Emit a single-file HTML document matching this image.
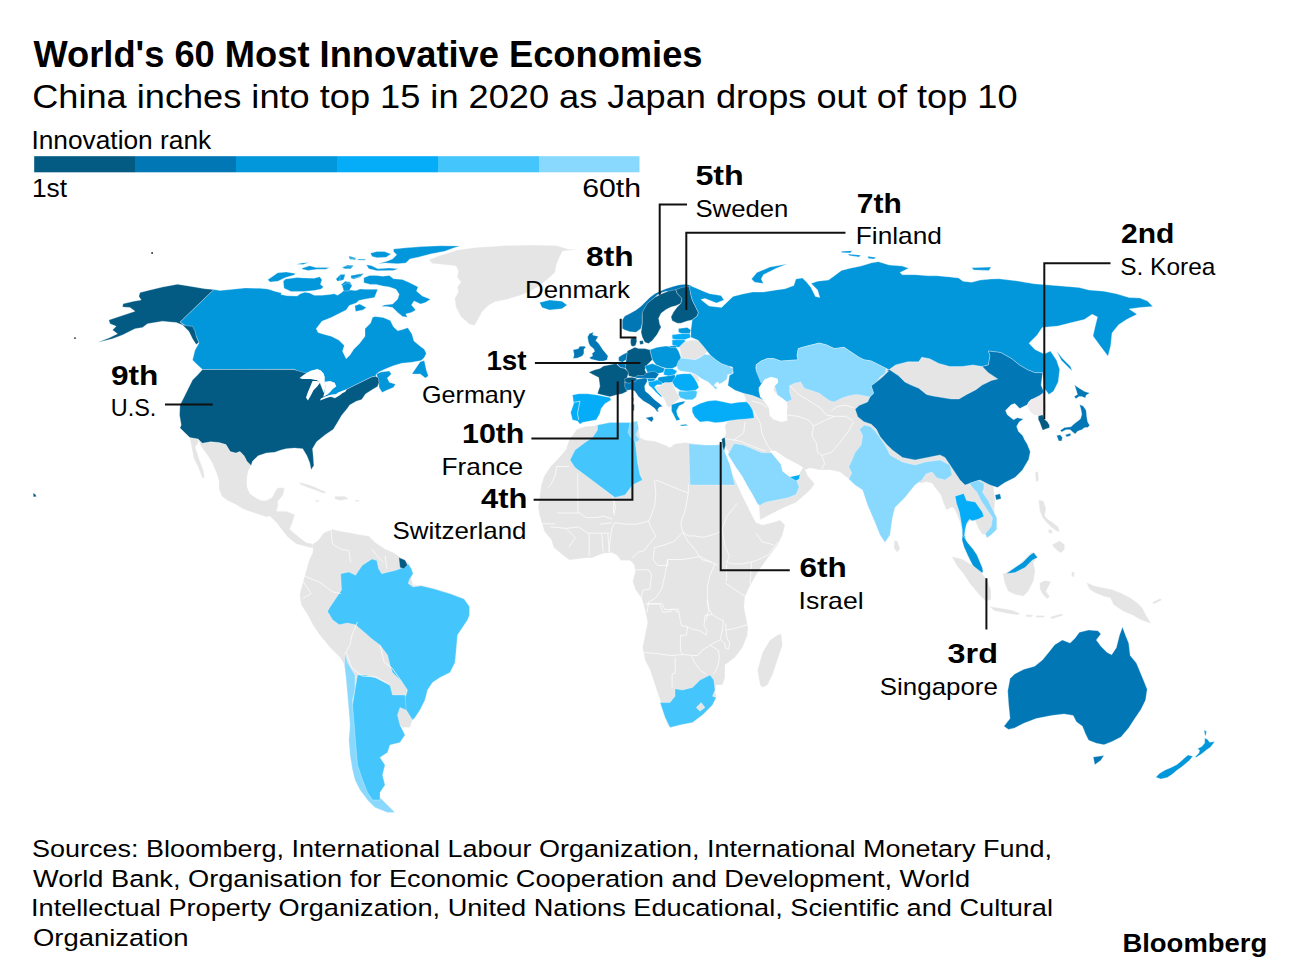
<!DOCTYPE html>
<html><head><meta charset="utf-8"><style>
html,body{margin:0;padding:0;background:#fff;}
svg{display:block;}
text{font-family:"Liberation Sans",sans-serif;fill:#000;}
.b{font-weight:bold;}
</style></head><body>
<svg width="1291" height="973" viewBox="0 0 1291 973">
<rect width="1291" height="973" fill="#fff"/>
<g id="map">
<path d="M428.7,259.8 438.6,256.1 457.2,249.9 475.8,247.4 506.7,245.6 531.5,245.0 556.3,245.6 568.7,249.3 578.6,249.3 562.5,251.2 560.0,256.1 556.3,264.8 555.1,272.2 550.1,277.2 543.9,282.1 537.7,287.1 529.0,292.0 519.1,295.8 506.7,299.5 494.3,302.0 488.2,305.7 482.0,311.9 478.2,319.3 474.5,325.5 469.6,324.3 460.9,316.8 455.9,306.9 454.7,298.2 458.4,292.0 457.2,287.1 460.9,282.1 457.2,277.2 458.4,271.0 455.9,266.0 444.8,264.8 432.4,263.5Z" fill="#e5e5e5" stroke="#fff" stroke-width="0.5" stroke-opacity="0.6" stroke-linejoin="round"/>
<path d="M198.1,439.0 202.3,443.2 210.7,441.8 219.0,442.5 226.0,444.6 230.2,451.6 235.8,453.0 240.0,451.6 244.1,455.8 246.9,461.3 251.1,465.5 248.3,471.1 246.9,478.1 246.9,486.4 249.7,493.4 255.3,497.6 260.9,500.4 266.4,500.4 272.0,497.6 274.8,492.0 277.6,487.8 284.6,487.8 283.2,494.8 277.6,501.8 278.2,504.7 276.6,511.2 286.4,511.2 294.7,514.5 293.0,521.1 289.7,529.3 299.6,537.6 306.2,542.5 312.8,544.1 317.7,540.9 320.0,538.0 315.0,546.0 312.8,548.0 309.5,547.4 302.9,545.8 296.3,544.1 288.1,537.6 281.5,529.3 276.6,522.8 270.0,516.2 266.4,517.1 258.1,514.3 249.7,511.5 242.7,508.8 235.8,504.6 227.4,500.4 221.8,496.2 219.0,489.2 219.0,480.9 216.3,472.5 212.1,462.7 207.9,455.8 203.7,450.2 200.5,445.0Z" fill="#e5e5e5" stroke="#fff" stroke-width="0.5" stroke-opacity="0.6" stroke-linejoin="round"/>
<path d="M189.8,437.6 198.1,439.0 198.5,442.5 195.3,447.0 199.5,460.0 203.7,471.1 204.4,478.1 202.3,478.1 198.1,466.9 193.9,458.6 191.9,448.8Z" fill="#e5e5e5" stroke="#fff" stroke-width="0.5" stroke-opacity="0.6" stroke-linejoin="round"/>
<path d="M298.5,482.3 305.5,483.7 313.9,486.4 319.4,489.2 326.4,492.0 323.6,493.4 316.6,490.6 308.3,487.8 301.3,485.0Z" fill="#e5e5e5" stroke="#fff" stroke-width="0.5" stroke-opacity="0.6" stroke-linejoin="round"/>
<path d="M334.8,496.2 344.5,496.2 348.7,499.0 340.3,500.4 334.8,499.0Z" fill="#e5e5e5" stroke="#fff" stroke-width="0.5" stroke-opacity="0.6" stroke-linejoin="round"/>
<path d="M315.2,500.2 319.4,500.6 319.0,502.0 315.5,501.8Z" fill="#e5e5e5" stroke="#fff" stroke-width="0.5" stroke-opacity="0.6" stroke-linejoin="round"/>
<path d="M355.0,500.0 359.5,500.2 359.0,501.6 355.2,501.4Z" fill="#e5e5e5" stroke="#fff" stroke-width="0.5" stroke-opacity="0.6" stroke-linejoin="round"/>
<path d="M312.8,544.1 317.7,540.9 322.6,534.3 324.3,532.6 332.5,529.3 339.1,531.0 348.9,532.6 357.2,534.3 368.7,535.9 375.3,542.5 385.1,549.1 393.4,552.4 400.0,557.3 408.2,562.2 413.1,572.1 411.4,578.7 413.1,585.3 421.3,585.3 434.5,588.6 450.9,593.5 464.1,598.4 469.0,606.6 469.0,614.9 467.5,620.0 462.5,627.5 457.5,635.0 456.2,650.0 455.0,662.5 450.0,672.5 440.0,677.5 432.5,682.5 427.5,690.0 425.0,700.0 420.0,710.0 415.0,717.5 412.5,720.0 410.0,727.5 402.5,727.5 400.0,725.0 405.0,735.0 400.0,742.5 390.0,745.0 387.5,752.5 380.0,757.5 385.0,765.0 382.5,775.0 385.0,785.0 380.0,792.5 380.0,800.0 387.5,805.0 395.0,812.5 387.5,812.5 375.0,807.5 367.5,800.0 360.0,790.0 355.0,780.0 352.5,770.0 350.0,755.0 348.8,740.0 350.0,725.0 348.8,710.0 347.5,695.0 346.2,680.0 344.5,665.0 340.0,657.5 330.0,647.5 319.4,634.6 312.8,624.7 307.8,614.9 301.3,605.0 299.6,595.1 302.9,582.0 306.2,570.5 309.5,559.0 312.8,552.4Z" fill="#e5e5e5" stroke="#fff" stroke-width="0.5" stroke-opacity="0.6" stroke-linejoin="round"/>
<path d="M576.8,429.3 586.1,426.2 592.0,426.0 597.5,425.0 610.0,422.5 622.5,422.5 632.5,423.0 638.0,424.0 639.0,430.0 640.0,437.5 645.0,440.0 655.0,441.2 665.0,445.0 670.0,447.5 675.0,443.8 685.0,442.5 695.0,443.8 705.0,445.0 715.0,445.0 722.5,443.8 724.0,450.0 728.5,465.0 733.0,475.0 737.5,485.0 742.0,495.0 747.0,505.0 752.0,515.0 756.0,522.5 762.5,525.0 772.5,522.5 780.0,520.0 785.0,525.0 782.5,535.0 777.5,545.0 770.0,555.0 762.0,566.0 755.0,577.0 749.0,588.0 745.0,597.0 744.0,607.0 746.0,617.0 748.0,627.0 747.5,635.0 742.5,647.5 735.0,657.5 725.0,665.0 725.0,677.5 722.5,685.0 716.2,685.0 715.0,690.0 716.2,697.5 712.5,705.0 702.5,715.0 692.5,722.5 680.0,725.0 670.0,727.5 667.5,725.0 665.0,715.0 660.0,700.0 655.0,685.0 650.0,670.0 645.0,660.0 642.5,647.5 645.0,635.0 647.5,622.5 645.0,610.0 641.9,598.8 635.3,589.5 632.7,581.6 635.3,571.1 634.0,564.5 630.1,560.6 620.9,560.6 616.9,555.3 611.6,552.7 603.7,553.3 598.5,555.3 591.9,557.9 585.3,557.9 576.1,559.3 569.5,559.9 562.9,555.3 553.7,547.4 551.1,539.5 544.5,531.6 539.6,516.0 538.1,506.8 539.6,497.5 541.2,485.1 544.3,475.8 550.5,466.5 556.7,460.3 566.0,449.4 569.1,440.1Z" fill="#e5e5e5" stroke="#fff" stroke-width="0.5" stroke-opacity="0.6" stroke-linejoin="round"/>
<path d="M760.0,685.0 757.5,670.0 762.5,652.5 770.0,640.0 777.5,635.0 781.2,633.8 782.5,645.0 777.5,660.0 772.5,675.0 767.5,685.0 762.5,687.5Z" fill="#e5e5e5" stroke="#fff" stroke-width="0.5" stroke-opacity="0.6" stroke-linejoin="round"/>
<path d="M724.8,426.5 727.0,422.0 735.0,418.0 746.5,401.8 743.4,393.3 752.7,395.6 758.9,398.0 764.3,400.3 768.0,403.0 770.0,385.0 800.0,378.0 850.0,372.0 889.0,369.6 895.5,364.9 907.9,361.8 918.7,361.8 921.8,357.2 929.6,358.7 938.9,363.4 949.7,366.5 962.1,366.5 973.0,364.9 982.2,366.5 990.0,372.0 998.0,379.0 1005.0,400.0 1000.0,440.0 992.0,470.0 995.0,500.0 993.0,530.0 985.3,534.5 982.4,534.5 978.1,528.0 975.3,521.0 970.0,521.0 966.0,526.0 964.0,534.0 962.0,532.0 960.0,522.0 955.0,510.0 952.2,507.0 946.5,510.0 943.6,503.5 940.7,494.8 935.0,487.6 932.1,483.3 926.3,481.9 920.6,483.3 900.0,472.0 870.0,466.0 855.0,470.0 848.7,479.0 840.0,472.0 830.0,470.0 820.0,470.0 810.0,468.0 805.0,470.0 808.0,476.0 814.6,483.8 811.5,488.4 805.3,494.6 796.0,502.4 785.2,507.0 769.7,514.8 760.0,520.0 759.0,506.0 753.5,494.6 747.0,482.2 738.5,466.8 730.0,454.4 726.0,448.0 724.0,440.0 726.0,432.0Z" fill="#e5e5e5" stroke="#fff" stroke-width="0.5" stroke-opacity="0.6" stroke-linejoin="round"/>
<path d="M213.8,289.5 220.0,290.5 230.0,289.5 245.0,288.0 260.0,288.3 267.7,289.1 275.5,291.4 281.7,293.0 280.9,294.5 287.1,295.7 297.2,296.1 300.3,293.7 304.9,292.2 309.6,293.0 314.2,295.3 322.0,295.3 329.7,294.5 334.4,293.7 337.5,295.3 342.1,292.2 345.2,289.1 349.9,289.9 356.1,290.6 360.0,289.0 364.7,289.3 377.8,289.3 374.5,297.6 364.7,299.2 358.9,300.5 356.2,303.0 349.2,305.5 346.2,310.0 338.7,313.7 331.2,317.5 321.9,321.2 316.2,328.7 318.1,332.5 323.7,334.3 331.2,336.2 338.7,340.0 344.3,345.6 342.5,351.2 346.2,358.7 350.0,355.0 353.7,349.3 359.3,343.7 365.0,336.2 365.0,328.7 370.6,323.1 372.5,317.5 374.9,316.4 383.2,317.5 390.4,320.6 393.4,326.7 397.6,330.8 401.7,329.8 407.8,327.7 411.9,333.9 414.0,341.1 420.2,346.2 424.3,349.3 426.3,353.4 424.3,357.6 421.2,360.6 412.0,362.2 401.7,363.2 393.4,365.8 388.3,367.8 383.2,369.9 379.1,371.9 376.5,374.0 375.7,376.2 371.1,377.2 363.6,380.9 354.3,385.5 346.9,389.3 337.6,393.0 333.9,395.8 326.5,398.1 320.0,400.4 323.2,396.7 325.5,386.5 324.6,381.8 324.6,377.2 320.9,370.7 317.2,369.3 305.1,373.5 298.6,371.6 293.9,369.3 202.5,369.5 197.5,365.0 192.5,360.0 195.0,350.0 199.0,343.0 196.0,336.0 192.0,330.0 186.0,326.0 180.0,322.0Z" fill="#0296db" stroke="#fff" stroke-width="0.5" stroke-opacity="0.6" stroke-linejoin="round"/>
<path d="M376.5,374.0 381.1,371.9 389.3,370.9 391.4,374.0 387.3,378.1 389.3,382.2 395.5,384.3 393.4,387.4 386.2,390.4 382.1,392.5 379.1,387.4 378.5,381.0 377.6,378.0Z" fill="#0296db" stroke="#fff" stroke-width="0.5" stroke-opacity="0.6" stroke-linejoin="round"/>
<path d="M416.1,367.8 420.2,361.7 424.3,360.6 426.3,369.9 428.4,376.1 425.3,378.1 420.2,374.0 411.9,374.0Z" fill="#0296db" stroke="#fff" stroke-width="0.5" stroke-opacity="0.6" stroke-linejoin="round"/>
<path d="M267.7,279.8 277.8,272.8 286.3,272.0 295.6,273.6 294.1,275.1 285.6,277.5 277.8,281.3 270.1,282.1Z" fill="#0296db" stroke="#fff" stroke-width="0.5" stroke-opacity="0.6" stroke-linejoin="round"/>
<path d="M283.2,281.3 285.6,279.0 297.2,277.5 303.4,277.9 314.2,278.2 319.6,276.7 322.0,279.8 320.4,284.4 323.5,286.8 321.2,289.1 314.2,290.6 303.4,291.4 291.0,291.4 284.0,288.3Z" fill="#0296db" stroke="#fff" stroke-width="0.5" stroke-opacity="0.6" stroke-linejoin="round"/>
<path d="M296.4,264.3 302.0,263.0 308.8,262.4 303.0,264.5Z" fill="#0296db" stroke="#fff" stroke-width="0.5" stroke-opacity="0.6" stroke-linejoin="round"/>
<path d="M301.8,268.2 309.6,265.8 315.8,267.4 329.7,267.4 325.8,269.3 317.3,269.3 308.0,270.5 302.6,269.3Z" fill="#0296db" stroke="#fff" stroke-width="0.5" stroke-opacity="0.6" stroke-linejoin="round"/>
<path d="M342.1,267.4 347.5,265.1 353.7,265.5 350.6,268.9 343.7,268.6Z" fill="#0296db" stroke="#fff" stroke-width="0.5" stroke-opacity="0.6" stroke-linejoin="round"/>
<path d="M335.9,279.0 339.8,275.1 345.2,274.4 343.7,279.8 337.5,281.3Z" fill="#0296db" stroke="#fff" stroke-width="0.5" stroke-opacity="0.6" stroke-linejoin="round"/>
<path d="M341.3,284.4 345.2,281.3 349.9,282.1 352.2,286.0 349.1,288.0 343.7,289.0Z" fill="#0296db" stroke="#fff" stroke-width="0.5" stroke-opacity="0.6" stroke-linejoin="round"/>
<path d="M351.4,277.5 355.0,275.0 360.0,273.6 358.0,277.0 353.0,279.0Z" fill="#0296db" stroke="#fff" stroke-width="0.5" stroke-opacity="0.6" stroke-linejoin="round"/>
<path d="M349.1,256.0 356.1,258.0 355.0,259.5 349.0,258.0Z" fill="#0296db" stroke="#fff" stroke-width="0.5" stroke-opacity="0.6" stroke-linejoin="round"/>
<path d="M350.6,277.1 357.6,274.3 363.2,273.6 360.4,277.1 353.4,279.2Z" fill="#0296db" stroke="#fff" stroke-width="0.5" stroke-opacity="0.6" stroke-linejoin="round"/>
<path d="M342.3,285.4 347.8,282.6 352.0,285.4 349.2,291.0 343.7,291.0Z" fill="#0296db" stroke="#fff" stroke-width="0.5" stroke-opacity="0.6" stroke-linejoin="round"/>
<path d="M393.5,249.0 405.8,247.8 422.2,246.6 440.0,245.8 459.7,246.0 452.0,248.5 444.8,251.2 430.5,254.0 418.1,257.3 409.9,258.9 405.8,263.0 397.6,263.8 385.2,263.0 377.8,263.8 386.1,261.4 392.6,258.9 396.7,254.8 393.5,251.5Z" fill="#0296db" stroke="#fff" stroke-width="0.5" stroke-opacity="0.6" stroke-linejoin="round"/>
<path d="M370.4,253.2 377.0,251.5 384.4,251.5 391.0,254.0 386.1,257.3 377.0,257.7 372.1,256.4Z" fill="#0296db" stroke="#fff" stroke-width="0.5" stroke-opacity="0.6" stroke-linejoin="round"/>
<path d="M366.3,264.7 371.2,265.5 377.8,268.8 389.3,268.0 398.4,268.8 393.5,270.4 377.0,270.8 368.8,268.8Z" fill="#0296db" stroke="#fff" stroke-width="0.5" stroke-opacity="0.6" stroke-linejoin="round"/>
<path d="M342.5,267.1 353.2,265.5 350.7,268.0 344.9,268.8Z" fill="#0296db" stroke="#fff" stroke-width="0.5" stroke-opacity="0.6" stroke-linejoin="round"/>
<path d="M350.7,275.4 363.8,273.7 360.6,276.2 351.5,278.7Z" fill="#0296db" stroke="#fff" stroke-width="0.5" stroke-opacity="0.6" stroke-linejoin="round"/>
<path d="M340.0,274.5 345.0,274.5 343.5,279.5 340.0,281.0Z" fill="#0296db" stroke="#fff" stroke-width="0.5" stroke-opacity="0.6" stroke-linejoin="round"/>
<path d="M354.8,305.8 359.7,304.1 366.3,307.4 363.0,309.9 355.6,311.5Z" fill="#0296db" stroke="#fff" stroke-width="0.5" stroke-opacity="0.6" stroke-linejoin="round"/>
<path d="M349.2,257.8 356.2,258.7 354.8,259.8 349.9,259.2Z" fill="#0296db" stroke="#fff" stroke-width="0.5" stroke-opacity="0.6" stroke-linejoin="round"/>
<path d="M357.6,258.9 366.0,259.2 364.6,260.3 358.3,260.1Z" fill="#0296db" stroke="#fff" stroke-width="0.5" stroke-opacity="0.6" stroke-linejoin="round"/>
<path d="M363.8,277.8 369.6,275.4 376.2,275.4 382.8,276.2 389.3,275.4 393.5,278.7 402.5,279.5 409.9,282.8 418.1,286.9 416.5,291.0 422.2,295.9 430.5,299.2 425.5,302.5 420.6,304.1 414.0,300.9 411.5,305.0 415.7,309.9 411.5,312.4 405.8,314.0 407.4,317.3 402.5,316.5 397.6,312.4 392.6,307.4 386.9,306.6 381.1,306.6 384.4,305.0 392.6,304.1 397.6,299.2 399.2,294.3 395.9,289.3 389.3,286.9 382.8,286.1 376.2,284.4 370.4,284.4 363.8,282.8Z" fill="#0296db" stroke="#fff" stroke-width="0.5" stroke-opacity="0.6" stroke-linejoin="round"/>
<path d="M202.5,369.5 293.7,369.6 305.0,372.8 308.7,374.6 316.2,379.3 320.0,383.0 323.7,392.4 329.4,396.2 335.0,398.0 340.0,395.0 346.9,389.3 354.3,385.5 363.6,380.9 371.1,377.2 375.7,376.2 378.5,378.1 379.0,382.8 377.6,386.5 372.9,389.3 365.5,393.9 361.8,399.5 356.2,401.3 349.7,405.1 347.3,408.4 341.7,415.3 337.6,422.3 333.4,429.3 325.0,434.9 316.6,441.8 312.5,448.8 313.2,455.8 313.9,465.5 311.1,469.7 309.7,462.7 306.9,455.8 302.7,448.8 294.3,448.1 286.0,448.8 280.4,450.2 274.8,452.3 266.4,453.0 258.1,455.8 252.5,461.3 251.1,465.5 246.9,461.3 244.1,455.8 240.0,451.6 235.8,453.0 230.2,451.6 226.0,444.6 219.0,442.5 210.7,441.8 202.3,443.2 198.1,439.0 189.8,437.6 185.6,433.5 180.0,427.9 181.2,425.0 179.5,415.0 180.0,405.0 183.8,397.5 187.5,390.0 192.5,380.0 197.5,375.0Z" fill="#035a82" stroke="#fff" stroke-width="0.5" stroke-opacity="0.6" stroke-linejoin="round"/>
<path d="M539.5,302.5 549.5,300.0 562.0,301.2 567.0,305.0 562.0,308.8 549.5,310.0 542.0,307.5Z" fill="#0296db" stroke="#fff" stroke-width="0.5" stroke-opacity="0.6" stroke-linejoin="round"/>
<path d="M622.3,328.6 622.3,319.9 624.8,316.1 629.8,313.6 636.1,309.9 641.0,306.2 646.0,301.2 649.8,297.4 654.8,293.7 659.8,291.2 666.0,288.7 672.2,286.8 678.5,285.0 684.7,284.3 689.7,285.0 692.2,286.2 689.7,288.7 684.7,288.1 679.7,289.3 674.7,291.8 669.7,291.8 666.0,291.2 662.2,292.4 657.3,294.9 652.3,299.9 647.3,306.2 643.5,311.1 642.3,316.1 642.3,323.6 641.0,328.6 636.1,332.3 629.8,331.7 624.8,329.9Z" fill="#0277b6" stroke="#fff" stroke-width="0.5" stroke-opacity="0.6" stroke-linejoin="round"/>
<path d="M642.3,316.1 642.5,312.0 647.4,303.4 654.9,297.2 661.1,294.1 668.5,291.0 675.9,289.7 677.2,293.5 682.1,298.4 680.9,303.4 675.9,305.8 671.0,307.1 666.0,309.6 661.1,313.3 658.6,318.2 659.8,324.4 661.1,326.9 657.3,334.3 652.4,340.5 648.5,343.6 644.8,342.3 642.3,337.3 641.0,332.3 642.3,323.6Z" fill="#035a82" stroke="#fff" stroke-width="0.5" stroke-opacity="0.6" stroke-linejoin="round"/>
<path d="M675.9,289.7 682.1,287.3 689.6,286.6 690.9,294.9 692.2,299.9 694.7,304.9 698.4,312.4 697.2,316.1 692.2,319.9 687.2,321.1 680.9,323.2 677.2,323.2 672.2,320.7 671.0,317.0 673.5,312.0 677.2,307.1 680.9,303.4 682.1,298.4 677.2,293.5Z" fill="#035a82" stroke="#fff" stroke-width="0.5" stroke-opacity="0.6" stroke-linejoin="round"/>
<path d="M678.5,328.6 687.2,327.4 690.9,329.9 689.7,333.6 682.2,333.6 678.5,332.3Z" fill="#0296db" stroke="#fff" stroke-width="0.5" stroke-opacity="0.6" stroke-linejoin="round"/>
<path d="M672.2,334.8 682.2,333.6 689.7,333.6 690.9,337.3 684.7,339.8 676.0,339.8 672.2,338.6Z" fill="#05adf8" stroke="#fff" stroke-width="0.5" stroke-opacity="0.6" stroke-linejoin="round"/>
<path d="M672.2,339.8 684.7,339.8 685.9,343.6 683.4,347.3 677.2,347.3 672.2,344.8Z" fill="#05adf8" stroke="#fff" stroke-width="0.5" stroke-opacity="0.6" stroke-linejoin="round"/>
<path d="M649.8,349.8 657.3,347.3 666.0,346.1 676.0,347.3 678.5,351.0 680.9,357.3 679.7,362.3 677.2,366.0 672.2,368.5 667.2,368.5 662.2,367.3 656.0,364.8 652.3,359.8 651.0,354.8Z" fill="#0296db" stroke="#fff" stroke-width="0.5" stroke-opacity="0.6" stroke-linejoin="round"/>
<path d="M669.7,346.1 676.0,345.4 676.6,347.6 669.7,347.6Z" fill="#0296db" stroke="#fff" stroke-width="0.5" stroke-opacity="0.6" stroke-linejoin="round"/>
<path d="M627.3,351.0 632.3,348.6 634.8,347.3 638.6,348.6 644.8,348.6 649.8,349.8 651.0,354.8 652.3,359.8 647.3,364.8 644.8,369.8 647.3,374.7 644.8,377.2 639.8,377.2 633.6,377.2 628.6,376.0 627.3,371.0 624.8,367.3 626.1,359.8 626.1,356.0Z" fill="#035a82" stroke="#fff" stroke-width="0.5" stroke-opacity="0.6" stroke-linejoin="round"/>
<path d="M630.8,338.5 634.0,337.5 636.5,338.0 636.8,341.5 635.5,345.5 633.0,346.5 631.0,345.5 630.5,342.0Z" fill="#035a82" stroke="#fff" stroke-width="0.5" stroke-opacity="0.6" stroke-linejoin="round"/>
<path d="M639.5,341.0 643.0,340.5 643.5,344.0 640.0,344.5Z" fill="#035a82" stroke="#fff" stroke-width="0.5" stroke-opacity="0.6" stroke-linejoin="round"/>
<path d="M618.6,357.3 622.3,354.8 627.3,352.3 626.1,359.8 622.3,362.3 618.6,361.0Z" fill="#0277b6" stroke="#fff" stroke-width="0.5" stroke-opacity="0.6" stroke-linejoin="round"/>
<path d="M616.1,362.3 622.3,362.3 626.1,364.8 624.8,368.5 619.9,367.3Z" fill="#0277b6" stroke="#fff" stroke-width="0.5" stroke-opacity="0.6" stroke-linejoin="round"/>
<path d="M587.5,337.0 589.5,333.4 593.6,332.3 592.6,334.9 598.3,336.4 595.7,340.6 598.8,343.6 602.9,349.8 606.0,353.4 608.0,356.0 607.0,360.1 603.4,361.1 598.8,361.1 594.7,360.1 590.6,359.1 589.5,357.5 592.6,356.0 592.1,353.4 594.7,351.3 593.6,348.8 590.0,345.7 588.5,342.6Z" fill="#0277b6" stroke="#fff" stroke-width="0.5" stroke-opacity="0.6" stroke-linejoin="round"/>
<path d="M573.1,349.8 578.2,348.8 579.8,346.2 584.4,346.2 585.9,347.2 583.9,349.3 583.9,353.4 582.3,356.0 577.7,358.0 573.1,358.5 574.1,354.9 573.6,351.9Z" fill="#0277b6" stroke="#fff" stroke-width="0.5" stroke-opacity="0.6" stroke-linejoin="round"/>
<path d="M644.8,366.0 652.3,363.5 658.5,366.0 664.7,368.5 663.5,372.2 658.5,373.5 653.5,374.7 647.3,372.2Z" fill="#0296db" stroke="#fff" stroke-width="0.5" stroke-opacity="0.6" stroke-linejoin="round"/>
<path d="M634.7,378.0 637.2,375.5 643.4,375.5 647.1,372.4 654.5,371.2 658.9,374.3 655.8,378.6 647.1,378.6Z" fill="#0277b6" stroke="#fff" stroke-width="0.5" stroke-opacity="0.6" stroke-linejoin="round"/>
<path d="M664.7,368.5 672.2,368.5 677.2,371.0 674.7,374.7 668.5,376.0 663.5,374.7Z" fill="#05adf8" stroke="#fff" stroke-width="0.5" stroke-opacity="0.6" stroke-linejoin="round"/>
<path d="M658.5,377.2 667.2,376.0 674.7,374.7 676.0,379.7 669.7,383.5 662.2,383.5 657.3,381.0Z" fill="#0296db" stroke="#fff" stroke-width="0.5" stroke-opacity="0.6" stroke-linejoin="round"/>
<path d="M588.7,372.2 594.9,369.8 599.9,368.5 603.6,366.0 609.9,364.8 616.1,363.5 619.9,367.3 624.8,368.5 628.6,372.2 627.3,377.2 624.8,382.2 626.1,387.5 627.3,391.2 622.3,393.7 616.1,394.9 609.9,396.8 602.4,394.9 597.4,393.7 599.9,386.2 598.7,377.5 593.7,375.0Z" fill="#035a82" stroke="#fff" stroke-width="0.5" stroke-opacity="0.6" stroke-linejoin="round"/>
<path d="M632.5,397.3 633.7,397.9 633.4,401.6 632.4,401.0Z" fill="#035a82" stroke="#fff" stroke-width="0.5" stroke-opacity="0.6" stroke-linejoin="round"/>
<path d="M572.5,394.9 578.7,393.7 587.4,393.7 597.4,394.9 609.9,397.4 611.1,399.9 604.9,403.7 601.1,408.7 599.9,413.6 596.2,419.9 589.9,421.1 582.4,422.4 580.0,424.2 577.5,421.1 572.5,419.9 570.6,412.4 573.7,403.7Z" fill="#05adf8" stroke="#fff" stroke-width="0.5" stroke-opacity="0.6" stroke-linejoin="round"/>
<path d="M625.4,380.4 627.9,378.6 634.7,378.0 637.2,379.2 644.6,378.0 647.1,378.6 647.1,381.7 644.6,386.0 645.2,391.0 649.6,394.7 654.5,399.7 659.5,403.4 662.6,406.5 659.5,407.1 657.6,409.6 658.9,412.0 657.0,411.4 654.5,408.3 649.6,404.6 643.4,400.9 638.4,396.6 634.7,391.0 631.0,389.7 626.6,390.4 624.5,386.0Z" fill="#0277b6" stroke="#fff" stroke-width="0.5" stroke-opacity="0.6" stroke-linejoin="round"/>
<path d="M645.5,417.7 652.3,416.5 653.6,418.9 651.7,422.0 648.0,419.6Z" fill="#0277b6" stroke="#fff" stroke-width="0.5" stroke-opacity="0.6" stroke-linejoin="round"/>
<path d="M632.5,403.5 634.3,404.7 634.1,410.9 632.1,410.3Z" fill="#0277b6" stroke="#fff" stroke-width="0.5" stroke-opacity="0.6" stroke-linejoin="round"/>
<path d="M647.1,378.6 655.8,378.6 653.9,381.1 648.3,381.7Z" fill="#0296db" stroke="#fff" stroke-width="0.5" stroke-opacity="0.6" stroke-linejoin="round"/>
<path d="M648.3,381.7 653.9,381.1 657.0,379.8 662.0,382.3 662.0,384.8 657.0,384.8 654.5,387.3 657.6,391.0 662.0,395.9 661.3,397.2 655.8,392.2 652.0,387.9 648.9,385.4Z" fill="#05adf8" stroke="#fff" stroke-width="0.5" stroke-opacity="0.6" stroke-linejoin="round"/>
<path d="M654.8,386.2 659.8,386.2 664.7,382.5 672.2,382.5 674.7,388.7 678.5,394.9 679.7,398.7 674.7,402.4 672.2,404.9 669.7,407.4 667.2,406.2 664.7,399.9 662.2,396.2 657.3,391.2Z" fill="#e5e5e5" stroke="#fff" stroke-width="0.5" stroke-opacity="0.6" stroke-linejoin="round"/>
<path d="M671.5,404.7 679.0,402.2 685.2,401.0 683.9,403.5 679.0,405.9 676.5,410.9 677.7,415.8 680.2,419.6 676.5,420.8 674.0,415.8 671.5,410.9Z" fill="#0296db" stroke="#fff" stroke-width="0.5" stroke-opacity="0.6" stroke-linejoin="round"/>
<path d="M679.7,424.9 685.9,424.2 688.4,425.5 681.6,426.1Z" fill="#0296db" stroke="#fff" stroke-width="0.5" stroke-opacity="0.6" stroke-linejoin="round"/>
<path d="M692.2,407.4 700.0,403.4 707.7,401.1 715.5,400.3 723.2,401.8 731.0,403.4 738.7,402.2 746.5,401.8 749.6,404.9 752.7,410.3 754.2,418.1 746.5,418.9 738.7,419.6 731.0,420.4 723.2,422.0 715.5,422.7 707.7,421.2 700.0,422.0 694.7,417.0 692.2,412.0Z" fill="#05adf8" stroke="#fff" stroke-width="0.5" stroke-opacity="0.6" stroke-linejoin="round"/>
<path d="M597.5,425.0 610.0,422.5 622.5,422.5 630.0,422.5 633.8,430.0 635.0,440.0 636.2,450.0 637.5,462.5 640.0,475.0 642.5,480.0 632.5,485.0 625.0,495.0 615.0,497.5 605.0,490.0 595.0,482.5 585.0,475.0 575.0,467.5 570.0,460.0 575.0,450.0 585.0,442.5 592.5,437.5 597.5,430.0Z" fill="#44c5fb" stroke="#fff" stroke-width="0.5" stroke-opacity="0.6" stroke-linejoin="round"/>
<path d="M629.8,422.4 637.3,421.1 638.6,428.6 636.1,434.8 639.8,439.8 636.1,442.3 633.6,439.8 629.8,436.1 628.0,432.3 629.2,427.4Z" fill="#89d8fd" stroke="#fff" stroke-width="0.5" stroke-opacity="0.6" stroke-linejoin="round"/>
<path d="M688.8,443.8 705.0,445.0 715.0,445.0 722.5,444.5 725.0,452.5 730.0,465.0 732.5,475.0 735.0,485.0 690.0,485.0Z" fill="#89d8fd" stroke="#fff" stroke-width="0.5" stroke-opacity="0.6" stroke-linejoin="round"/>
<path d="M679.5,346.7 684.2,342.1 690.7,340.2 698.1,340.2 703.7,346.7 707.4,351.4 704.6,354.2 700.9,357.0 695.3,359.7 687.9,358.8 681.4,357.9Z" fill="#e5e5e5" stroke="#fff" stroke-width="0.5" stroke-opacity="0.6" stroke-linejoin="round"/>
<path d="M681.4,357.9 687.9,358.8 695.3,359.7 700.9,357.0 704.6,354.2 710.2,355.1 715.8,359.7 721.3,363.5 728.8,366.2 733.4,369.0 732.5,373.7 727.8,374.6 726.9,379.3 723.2,382.0 719.5,383.9 717.6,382.0 715.8,383.0 713.9,385.8 717.6,387.6 715.8,389.5 712.0,385.8 708.3,382.0 704.6,380.2 700.9,378.3 697.2,375.5 691.6,372.8 686.0,371.8 680.4,370.9 677.7,369.0 676.7,365.3 678.6,360.7Z" fill="#89d8fd" stroke="#fff" stroke-width="0.5" stroke-opacity="0.6" stroke-linejoin="round"/>
<path d="M691.6,372.8 697.2,375.5 700.0,380.2 698.1,382.0 695.3,379.3 692.5,376.5Z" fill="#e5e5e5" stroke="#fff" stroke-width="0.5" stroke-opacity="0.6" stroke-linejoin="round"/>
<path d="M672.1,382.0 676.7,374.6 683.2,373.7 690.7,373.7 694.4,378.3 697.2,383.0 699.0,387.6 695.3,390.4 687.9,391.3 680.4,390.4 674.9,386.7Z" fill="#05adf8" stroke="#fff" stroke-width="0.5" stroke-opacity="0.6" stroke-linejoin="round"/>
<path d="M678.6,391.3 686.0,391.3 693.5,390.4 697.2,391.3 696.2,396.9 692.5,399.7 686.0,399.7 680.4,397.8 678.6,395.1Z" fill="#44c5fb" stroke="#fff" stroke-width="0.5" stroke-opacity="0.6" stroke-linejoin="round"/>
<path d="M689.7,285.6 694.7,287.5 703.4,291.2 709.6,293.7 721.0,295.6 724.0,300.0 716.5,303.0 705.0,298.5 700.9,299.5 709.0,306.0 721.5,307.5 733.0,296.4 741.7,294.2 752.5,292.1 763.4,292.1 776.4,289.9 785.1,288.8 793.8,285.6 795.9,279.0 802.4,278.0 806.8,282.3 811.1,287.7 815.4,296.4 819.8,297.5 817.6,289.9 811.1,283.4 817.6,281.2 828.5,280.1 832.8,276.9 841.5,270.4 850.2,268.2 861.0,266.0 871.8,262.8 878.4,261.7 889.2,265.0 902.2,266.0 908.7,268.2 900.0,272.5 902.2,274.7 915.2,274.7 928.2,275.8 936.9,275.8 949.9,276.9 958.6,278.0 963.0,281.2 971.6,282.3 980.3,280.1 991.1,279.0 999.0,278.8 1019.0,281.2 1034.0,283.8 1049.0,285.0 1064.0,286.2 1079.0,287.5 1089.0,290.0 1104.0,291.2 1116.5,293.8 1129.0,297.5 1140.0,298.0 1147.5,301.1 1152.8,306.4 1140.0,307.5 1129.1,309.0 1137.0,314.3 1126.5,319.5 1118.6,324.8 1112.0,333.0 1110.7,345.8 1108.0,356.3 1100.1,345.8 1093.0,336.0 1094.9,327.4 1097.5,316.9 1092.2,314.3 1084.3,319.5 1073.8,322.1 1058.0,326.1 1042.2,327.4 1037.0,335.3 1029.0,343.2 1034.9,349.4 1044.2,354.1 1050.4,351.0 1056.6,360.3 1059.7,369.6 1058.2,382.0 1053.5,391.3 1048.9,394.4 1044.2,388.2 1042.7,372.7 1034.9,372.7 1027.2,369.6 1019.4,364.9 1011.7,358.7 1000.8,352.5 988.4,351.0 990.0,355.6 988.4,364.9 982.2,366.5 973.0,364.9 962.1,366.5 949.7,366.5 938.9,363.4 929.6,358.7 921.8,357.2 918.7,361.8 907.9,361.8 895.5,364.9 889.3,369.6 886.2,368.4 878.8,364.7 871.3,361.0 863.9,359.7 859.0,357.3 851.5,352.3 844.1,347.3 834.2,348.6 826.7,344.9 819.3,343.0 806.9,346.1 798.2,348.6 797.0,356.0 798.2,359.7 789.6,360.4 780.9,361.0 773.5,358.5 767.3,358.5 761.1,361.0 756.1,364.7 755.8,368.5 758.9,373.9 764.3,380.1 758.9,387.9 758.9,391.0 760.4,397.2 764.3,400.3 758.9,398.0 752.7,395.6 743.4,393.3 734.9,390.2 727.9,385.6 729.4,375.5 733.3,373.2 732.5,367.0 728.8,366.2 721.3,363.5 715.8,359.7 710.2,355.1 707.4,351.4 703.7,346.7 698.1,340.2 690.9,337.3 690.9,329.9 692.2,319.9 697.2,316.1 698.4,312.4 694.7,304.9 692.2,299.9 690.9,294.9 689.7,288.7Z" fill="#0296db" stroke="#fff" stroke-width="0.5" stroke-opacity="0.6" stroke-linejoin="round"/>
<path d="M756.9,272.5 769.9,267.1 787.2,263.9 776.4,268.2 763.4,274.7 761.2,279.0 763.4,283.4 754.7,282.3 751.5,279.0Z" fill="#0296db" stroke="#fff" stroke-width="0.5" stroke-opacity="0.6" stroke-linejoin="round"/>
<path d="M841.5,251.3 852.3,250.8 850.2,253.0 841.5,252.6Z" fill="#0296db" stroke="#fff" stroke-width="0.5" stroke-opacity="0.6" stroke-linejoin="round"/>
<path d="M848.0,254.1 861.0,255.2 858.8,256.9 849.1,255.6Z" fill="#0296db" stroke="#fff" stroke-width="0.5" stroke-opacity="0.6" stroke-linejoin="round"/>
<path d="M867.5,256.3 876.2,257.4 874.0,259.1 868.6,258.4Z" fill="#0296db" stroke="#fff" stroke-width="0.5" stroke-opacity="0.6" stroke-linejoin="round"/>
<path d="M971.6,267.8 991.1,267.1 989.0,270.4 973.8,269.9Z" fill="#0296db" stroke="#fff" stroke-width="0.5" stroke-opacity="0.6" stroke-linejoin="round"/>
<path d="M1056.6,351.0 1062.8,358.7 1070.5,366.5 1072.1,371.1 1069.0,368.0 1061.3,360.3Z" fill="#0296db" stroke="#fff" stroke-width="0.5" stroke-opacity="0.6" stroke-linejoin="round"/>
<path d="M756.1,364.7 761.1,361.0 767.3,358.5 773.5,358.5 780.9,361.0 789.6,360.4 798.2,359.7 797.0,356.0 798.2,348.6 806.9,346.1 819.3,343.0 826.7,344.9 834.2,348.6 844.1,347.3 851.5,352.3 859.0,357.3 863.9,359.7 871.3,361.0 878.8,364.7 886.2,368.4 885.0,373.4 880.0,377.1 876.3,382.0 871.3,385.8 873.8,393.2 870.1,396.9 863.9,395.7 856.5,394.4 849.0,395.7 841.6,398.2 834.2,401.9 829.2,400.6 824.3,396.9 819.3,393.2 811.9,390.7 804.4,388.2 800.7,382.0 794.5,383.3 789.6,385.8 789.6,392.0 792.0,399.4 787.1,401.9 782.1,399.4 777.2,394.4 774.7,385.8 777.2,382.0 775.9,378.3 771.0,377.1 764.8,379.6 761.1,383.3 758.6,377.1 756.1,370.9Z" fill="#89d8fd" stroke="#fff" stroke-width="0.5" stroke-opacity="0.6" stroke-linejoin="round"/>
<path d="M886.5,370.0 889.3,369.6 898.6,375.8 904.8,382.0 911.0,385.1 918.7,388.2 926.5,394.4 932.7,395.9 942.0,397.5 951.3,399.0 959.0,399.0 966.8,394.4 976.0,389.7 982.2,385.1 991.5,380.4 997.7,378.9 988.4,372.7 982.2,366.5 988.4,364.9 990.0,355.6 988.4,351.0 1000.8,352.5 1011.7,358.7 1019.4,364.9 1027.2,369.6 1034.9,372.7 1042.7,372.7 1041.1,385.1 1044.2,392.8 1036.5,399.0 1030.9,399.8 1027.2,404.8 1019.7,408.5 1017.3,406.0 1014.8,403.5 1011.1,404.8 1005.5,410.4 1007.3,414.7 1013.5,419.7 1017.3,417.8 1023.5,419.0 1019.1,422.1 1016.6,426.5 1018.5,431.4 1022.8,435.8 1024.7,440.0 1027.2,443.9 1030.3,451.7 1028.7,459.4 1022.5,470.0 1015.0,477.5 1005.0,482.5 997.5,487.5 990.0,485.0 980.0,480.0 972.5,482.5 965.0,485.0 960.0,480.0 955.0,472.5 950.0,465.0 945.0,457.5 940.0,455.0 927.5,457.5 915.0,460.0 902.5,457.5 892.4,450.0 886.2,444.0 880.0,436.6 876.3,429.1 871.3,424.2 863.9,421.7 857.7,416.7 855.2,409.3 859.0,405.6 867.6,401.9 870.1,396.9 873.8,393.2 871.3,385.8 876.3,382.0 882.5,377.1 888.7,370.9Z" fill="#0277b6" stroke="#fff" stroke-width="0.5" stroke-opacity="0.6" stroke-linejoin="round"/>
<path d="M995.0,495.0 1000.0,493.8 1001.2,498.8 996.2,500.0Z" fill="#0277b6" stroke="#fff" stroke-width="0.5" stroke-opacity="0.6" stroke-linejoin="round"/>
<path d="M1035.0,472.5 1038.0,471.2 1038.8,480.0 1036.2,482.5Z" fill="#e5e5e5" stroke="#fff" stroke-width="0.5" stroke-opacity="0.6" stroke-linejoin="round"/>
<path d="M1030.9,399.8 1034.6,398.0 1039.6,395.5 1042.7,393.6 1043.9,390.5 1045.8,392.4 1044.5,398.6 1045.8,403.5 1045.8,409.7 1043.9,414.7 1038.3,415.9 1033.4,414.7 1029.7,411.0 1027.2,406.0 1028.4,402.3Z" fill="#efebed" stroke="#fff" stroke-width="0.5" stroke-opacity="0.6" stroke-linejoin="round"/>
<path d="M1038.3,415.9 1042.7,414.7 1043.9,418.4 1047.6,422.1 1049.5,425.2 1049.5,427.7 1045.8,428.9 1042.7,430.2 1041.4,427.1 1039.6,422.1 1038.3,419.7Z" fill="#035a82" stroke="#fff" stroke-width="0.5" stroke-opacity="0.6" stroke-linejoin="round"/>
<path d="M1074.6,385.1 1078.9,388.0 1084.7,391.6 1089.7,393.0 1086.1,395.2 1085.4,398.1 1081.8,396.6 1078.9,396.6 1076.0,398.8 1074.2,396.6 1077.5,394.5 1076.0,389.4Z" fill="#0277b6" stroke="#fff" stroke-width="0.5" stroke-opacity="0.6" stroke-linejoin="round"/>
<path d="M1079.6,404.5 1083.2,406.0 1086.1,410.3 1086.8,416.8 1087.6,421.8 1089.7,425.4 1087.6,427.6 1084.7,427.6 1081.8,429.7 1077.5,431.2 1075.3,434.0 1073.2,432.6 1070.3,429.7 1066.0,429.7 1061.7,431.9 1060.2,430.4 1064.5,427.6 1071.0,426.8 1073.9,424.0 1076.8,421.8 1080.4,418.9 1081.8,414.6 1081.1,410.3Z" fill="#0277b6" stroke="#fff" stroke-width="0.5" stroke-opacity="0.6" stroke-linejoin="round"/>
<path d="M1065.3,434.7 1070.3,433.3 1071.0,435.5 1066.7,436.9Z" fill="#0277b6" stroke="#fff" stroke-width="0.5" stroke-opacity="0.6" stroke-linejoin="round"/>
<path d="M1056.6,435.5 1060.2,434.7 1062.4,437.6 1061.7,440.9 1058.8,440.9Z" fill="#0277b6" stroke="#fff" stroke-width="0.5" stroke-opacity="0.6" stroke-linejoin="round"/>
<path d="M848.7,479.1 851.8,473.0 848.7,466.8 851.8,460.6 854.9,452.8 861.1,445.1 862.7,435.8 859.6,429.6 864.2,424.9 870.4,426.5 875.1,431.1 879.7,437.3 885.9,446.6 890.0,455.0 902.5,462.0 915.0,465.0 925.0,462.0 940.0,460.0 950.0,465.0 952.0,475.0 945.0,480.0 937.0,478.0 932.0,472.0 926.0,474.0 922.0,480.0 915.0,485.0 905.0,497.5 895.0,507.5 892.5,517.5 890.0,535.0 885.0,542.5 880.0,535.0 875.0,522.5 867.5,505.0 862.5,490.0 855.0,485.0Z" fill="#89d8fd" stroke="#fff" stroke-width="0.5" stroke-opacity="0.6" stroke-linejoin="round"/>
<path d="M894.5,540.0 897.5,541.2 900.0,548.8 897.0,552.5 893.8,547.5Z" fill="#e5e5e5" stroke="#fff" stroke-width="0.5" stroke-opacity="0.6" stroke-linejoin="round"/>
<path d="M955.1,496.3 963.7,493.4 966.6,500.6 975.3,502.0 982.4,512.1 983.9,516.4 978.1,519.3 972.4,520.7 969.5,519.3 966.6,523.6 965.2,529.4 964.5,535.0 966.6,542.3 963.5,541.0 962.3,535.0 962.3,529.4 960.9,520.7 959.4,512.1 956.5,503.5Z" fill="#05adf8" stroke="#fff" stroke-width="0.5" stroke-opacity="0.6" stroke-linejoin="round"/>
<path d="M969.5,483.3 978.1,480.4 983.9,483.3 983.9,489.1 982.4,491.9 988.2,500.6 992.5,509.2 996.8,517.8 996.8,529.4 991.1,535.1 986.8,538.0 985.3,533.7 991.1,526.5 992.5,517.8 986.8,509.2 981.0,500.6 976.7,491.9 972.4,487.6Z" fill="#89d8fd" stroke="#fff" stroke-width="0.5" stroke-opacity="0.6" stroke-linejoin="round"/>
<path d="M962.5,535.0 967.5,542.5 973.0,549.0 977.0,555.0 982.5,568.0 983.0,572.5 978.5,573.0 972.5,565.0 968.0,556.0 964.0,547.0 962.0,540.0Z" fill="#0296db" stroke="#fff" stroke-width="0.5" stroke-opacity="0.6" stroke-linejoin="round"/>
<path d="M951.7,556.5 962.0,559.0 972.0,565.0 981.0,572.0 987.0,580.0 991.0,590.0 991.0,599.6 985.8,601.3 979.0,594.5 970.4,584.3 963.6,574.1 956.8,565.6Z" fill="#e5e5e5" stroke="#fff" stroke-width="0.5" stroke-opacity="0.6" stroke-linejoin="round"/>
<path d="M1006.2,572.4 1018.2,565.6 1026.7,557.0 1031.8,551.9 1037.8,557.0 1033.5,562.2 1035.2,570.7 1033.5,580.9 1028.4,591.1 1023.3,596.2 1014.8,594.5 1007.9,591.1 1004.5,582.6 1002.8,574.1Z" fill="#e5e5e5" stroke="#fff" stroke-width="0.5" stroke-opacity="0.6" stroke-linejoin="round"/>
<path d="M1006.2,573.8 1015.0,567.5 1022.5,562.5 1030.0,555.0 1033.8,552.5 1037.5,557.5 1032.5,560.0 1025.0,567.5 1015.0,572.5Z" fill="#0296db" stroke="#fff" stroke-width="0.5" stroke-opacity="0.6" stroke-linejoin="round"/>
<path d="M989.2,606.5 1001.1,608.2 1011.3,609.9 1019.9,613.3 1018.2,615.0 1006.2,613.3 994.3,610.7Z" fill="#e5e5e5" stroke="#fff" stroke-width="0.5" stroke-opacity="0.6" stroke-linejoin="round"/>
<path d="M1026.0,614.5 1033.0,615.0 1032.0,617.0 1026.0,616.8Z" fill="#e5e5e5" stroke="#fff" stroke-width="0.5" stroke-opacity="0.6" stroke-linejoin="round"/>
<path d="M1036.0,615.5 1045.0,615.5 1044.0,617.5 1036.0,617.5Z" fill="#e5e5e5" stroke="#fff" stroke-width="0.5" stroke-opacity="0.6" stroke-linejoin="round"/>
<path d="M1050.0,617.0 1062.0,613.5 1063.0,615.5 1052.0,619.0Z" fill="#e5e5e5" stroke="#fff" stroke-width="0.5" stroke-opacity="0.6" stroke-linejoin="round"/>
<path d="M1038.6,499.8 1043.5,501.1 1046.0,508.5 1044.8,515.9 1048.5,519.7 1052.2,522.1 1058.4,527.1 1059.7,532.0 1055.9,530.8 1051.0,527.1 1046.0,522.1 1042.3,517.2 1039.8,511.0Z" fill="#e5e5e5" stroke="#fff" stroke-width="0.5" stroke-opacity="0.6" stroke-linejoin="round"/>
<path d="M1052.2,544.4 1059.7,540.7 1064.6,544.4 1064.6,549.4 1060.9,553.1 1057.2,550.6 1053.5,546.9Z" fill="#e5e5e5" stroke="#fff" stroke-width="0.5" stroke-opacity="0.6" stroke-linejoin="round"/>
<path d="M1048.3,529.3 1052.5,530.2 1052.0,533.5 1048.7,533.0Z" fill="#e5e5e5" stroke="#fff" stroke-width="0.5" stroke-opacity="0.6" stroke-linejoin="round"/>
<path d="M1039.8,582.9 1044.8,580.4 1051.0,581.6 1048.5,586.6 1046.0,591.5 1049.7,596.5 1047.3,599.0 1042.3,594.0 1039.8,589.0Z" fill="#e5e5e5" stroke="#fff" stroke-width="0.5" stroke-opacity="0.6" stroke-linejoin="round"/>
<path d="M1071.4,571.7 1074.5,572.3 1074.3,576.9 1071.8,576.4Z" fill="#e5e5e5" stroke="#fff" stroke-width="0.5" stroke-opacity="0.6" stroke-linejoin="round"/>
<path d="M1086.3,582.6 1094.9,586.0 1103.4,587.7 1111.9,589.4 1120.4,592.8 1130.6,597.9 1137.5,603.1 1142.6,608.2 1146.0,615.0 1151.1,623.5 1140.9,620.1 1132.3,615.0 1123.8,611.6 1118.7,608.2 1113.6,604.8 1110.2,597.9 1103.4,596.2 1094.9,592.8 1089.7,589.4Z" fill="#e5e5e5" stroke="#fff" stroke-width="0.5" stroke-opacity="0.6" stroke-linejoin="round"/>
<path d="M1152.0,602.5 1160.0,598.5 1162.0,600.0 1154.0,604.0Z" fill="#e5e5e5" stroke="#fff" stroke-width="0.5" stroke-opacity="0.6" stroke-linejoin="round"/>
<path d="M728.0,454.4 734.1,443.5 743.4,445.1 751.1,448.2 762.0,452.8 769.7,452.8 771.5,452.7 780.8,463.9 782.7,471.3 790.1,476.9 796.0,479.1 799.2,486.9 796.0,494.6 788.3,497.7 780.6,499.3 772.8,500.8 765.1,502.4 760.0,505.5 757.5,503.9 752.5,494.6 747.0,485.3 742.0,476.1 735.5,466.8Z" fill="#89d8fd" stroke="#fff" stroke-width="0.5" stroke-opacity="0.6" stroke-linejoin="round"/>
<path d="M788.3,476.0 794.5,473.0 800.7,469.9 799.2,479.1 796.0,480.7 793.0,479.1Z" fill="#05adf8" stroke="#fff" stroke-width="0.5" stroke-opacity="0.6" stroke-linejoin="round"/>
<path d="M721.7,438.9 724.8,437.3 725.6,445.1 724.0,451.3 722.5,446.6Z" fill="#035a82" stroke="#fff" stroke-width="0.5" stroke-opacity="0.6" stroke-linejoin="round"/>
<path d="M327.6,611.6 329.2,608.3 335.8,598.4 341.5,590.0 340.7,573.7 349.0,572.0 355.5,575.3 362.1,565.5 372.0,558.9 376.9,560.6 378.6,568.8 381.8,573.7 388.4,572.1 395.0,570.5 399.9,568.8 404.9,565.5 408.2,563.9 411.4,568.8 413.1,573.7 409.8,578.7 408.2,583.6 413.1,586.9 421.3,585.8 434.5,589.0 450.9,594.0 464.1,599.0 469.5,606.6 469.5,615.0 467.5,620.0 462.5,627.5 457.5,635.0 456.2,650.0 455.0,662.5 450.0,672.5 440.0,677.5 432.5,682.5 427.5,690.0 425.0,700.0 420.0,710.0 415.0,717.5 412.5,720.0 406.2,710.0 400.0,707.5 402.5,700.0 406.2,695.0 407.5,690.0 402.5,682.5 397.5,677.5 392.5,672.5 390.0,665.0 387.5,655.0 380.0,645.0 372.0,639.0 364.0,632.0 355.5,624.7 347.3,623.1 339.1,624.7 332.5,619.8Z" fill="#44c5fb" stroke="#fff" stroke-width="0.5" stroke-opacity="0.6" stroke-linejoin="round"/>
<path d="M398.8,557.5 405.0,560.0 407.5,565.0 403.8,568.8 400.0,567.5Z" fill="#035a82" stroke="#fff" stroke-width="0.5" stroke-opacity="0.6" stroke-linejoin="round"/>
<path d="M345.0,652.5 347.5,662.5 355.0,675.0 355.0,690.0 352.5,700.0 353.8,712.5 355.0,725.0 357.5,740.0 358.8,755.0 362.5,770.0 365.0,782.5 370.0,792.5 380.0,797.5 387.5,805.0 395.0,812.5 387.5,812.5 375.0,807.5 367.5,800.0 360.0,790.0 355.0,780.0 352.5,770.0 350.0,755.0 348.8,740.0 350.0,725.0 348.8,710.0 347.5,695.0 346.2,680.0 344.5,665.0Z" fill="#89d8fd" stroke="#fff" stroke-width="0.5" stroke-opacity="0.6" stroke-linejoin="round"/>
<path d="M357.5,675.0 365.0,675.0 375.0,677.5 390.0,685.0 392.5,695.0 405.0,695.0 406.2,710.0 400.0,707.5 397.5,715.0 400.0,725.0 405.0,735.0 400.0,742.5 390.0,745.0 387.5,752.5 380.0,757.5 385.0,765.0 382.5,775.0 385.0,785.0 380.0,792.5 380.0,800.0 372.5,800.0 367.5,792.5 362.5,780.0 357.5,765.0 356.2,750.0 355.0,735.0 353.8,720.0 352.5,705.0 355.0,690.0Z" fill="#44c5fb" stroke="#fff" stroke-width="0.5" stroke-opacity="0.6" stroke-linejoin="round"/>
<path d="M660.0,702.5 670.0,702.5 675.0,696.2 675.0,688.8 682.5,690.0 692.5,687.5 700.0,680.0 710.0,675.0 713.8,680.0 715.0,690.0 712.5,696.2 716.2,697.5 712.5,705.0 702.5,715.0 692.5,722.5 680.0,725.0 670.0,727.5 665.0,717.5Z" fill="#44c5fb" stroke="#fff" stroke-width="0.5" stroke-opacity="0.6" stroke-linejoin="round"/>
<path d="M1003.9,726.3 1010.0,718.6 1008.5,703.2 1007.7,690.9 1010.0,678.6 1014.7,673.9 1023.9,669.3 1034.7,666.2 1042.4,660.1 1048.6,652.4 1054.7,644.7 1062.4,640.0 1070.1,643.1 1074.7,638.5 1079.4,632.3 1088.6,630.0 1097.9,630.8 1100.9,633.9 1096.3,640.0 1100.9,646.2 1107.1,652.4 1111.7,654.7 1116.3,647.7 1119.4,635.4 1122.5,626.9 1125.6,635.4 1128.7,643.1 1130.2,655.4 1136.4,663.1 1141.0,673.9 1144.1,681.6 1147.2,689.3 1145.6,700.1 1141.0,709.4 1134.8,718.6 1128.7,727.9 1121.0,737.1 1111.7,741.7 1104.0,744.8 1096.3,743.3 1088.6,740.2 1085.5,734.0 1082.4,726.3 1076.3,721.7 1073.2,715.5 1064.0,714.0 1051.6,715.5 1036.2,718.6 1023.9,723.2 1014.7,727.9 1008.5,729.4Z" fill="#0277b6" stroke="#fff" stroke-width="0.5" stroke-opacity="0.6" stroke-linejoin="round"/>
<path d="M1093.2,757.1 1104.0,755.6 1100.9,760.2 1094.8,764.8Z" fill="#0277b6" stroke="#fff" stroke-width="0.5" stroke-opacity="0.6" stroke-linejoin="round"/>
<path d="M1204.7,738.0 1207.6,739.4 1209.7,742.3 1214.7,741.6 1212.6,744.5 1210.4,747.3 1206.1,750.2 1201.8,753.8 1196.0,757.4 1195.3,756.7 1198.9,753.1 1199.6,750.2 1197.5,748.8 1201.8,746.6 1204.7,743.0Z" fill="#0296db" stroke="#fff" stroke-width="0.5" stroke-opacity="0.6" stroke-linejoin="round"/>
<path d="M1204.1,730.1 1206.5,731.5 1205.8,735.5 1205.0,735.5Z" fill="#0296db" stroke="#fff" stroke-width="0.5" stroke-opacity="0.6" stroke-linejoin="round"/>
<path d="M1188.1,754.9 1192.8,756.3 1189.6,760.3 1185.3,763.9 1180.9,767.5 1176.6,770.4 1172.3,774.3 1167.3,777.6 1160.8,779.0 1155.8,777.2 1159.4,773.6 1165.1,770.0 1171.2,767.5 1177.0,764.6 1182.0,760.3 1185.6,757.1Z" fill="#0296db" stroke="#fff" stroke-width="0.5" stroke-opacity="0.6" stroke-linejoin="round"/>
<path d="M97.5,342.5 110.0,337.5 117.5,333.8 112.5,330.0 116.2,326.2 110.0,323.8 108.8,320.0 116.2,317.5 127.5,313.8 135.0,311.2 130.0,307.5 122.5,307.0 123.0,303.8 133.8,301.2 141.2,300.0 138.8,296.2 140.0,292.5 150.0,290.0 162.5,287.0 177.5,284.2 190.0,286.2 205.0,288.8 213.8,289.5 180.0,322.0 183.8,325.0 190.0,326.2 192.5,326.2 195.0,331.2 196.2,336.2 198.8,342.5 196.2,344.5 192.5,338.8 188.8,331.2 182.5,325.0 176.2,322.5 170.0,322.0 162.5,321.2 155.0,322.5 147.5,323.8 142.5,327.5 135.0,328.8 130.0,331.2 122.5,335.0 112.5,338.8Z" fill="#035a82" stroke="#fff" stroke-width="0.5" stroke-opacity="0.6" stroke-linejoin="round"/>
<path d="M33.0,493.0 35.5,494.5 36.5,496.5 33.5,497.0Z" fill="#035a82" stroke="#fff" stroke-width="0.5" stroke-opacity="0.6" stroke-linejoin="round"/>
<path d="M624.5,378.8 628.0,377.5 632.3,377.2 636.5,378.3 635.8,381.2 632.0,381.8 629.3,383.3 625.5,382.3Z" fill="#035a82" stroke="#fff" stroke-width="0.5" stroke-opacity="0.6" stroke-linejoin="round"/>
<path d="M696.2,707.5 701.2,702.5 705.0,707.5 700.0,711.2Z" fill="#e5e5e5" stroke="#fff" stroke-width="0.5" stroke-opacity="0.6" stroke-linejoin="round"/>
<path d="M299.5,378.1 304.2,374.4 310.7,370.7 317.2,369.3 320.9,370.7 323.7,373.5 324.6,377.2 322.8,379.0 319.0,380.0 315.3,380.0 310.7,379.0 306.0,379.0 302.3,379.0Z" fill="#fff"/>
<path d="M312.5,380.9 317.2,380.9 320.0,382.8 317.2,386.5 313.5,390.2 310.7,395.8 307.9,400.4 306.0,397.6 307.9,392.0 310.7,385.5Z" fill="#fff"/>
<path d="M324.6,381.8 330.2,380.9 334.8,382.8 336.2,386.5 333.0,388.8 329.3,393.0 325.5,395.8 323.2,396.7 324.6,392.0 325.5,386.5Z" fill="#fff"/>
<path d="M320.0,400.4 326.5,398.1 333.9,395.8 336.7,393.9 332.0,394.4 325.5,396.2 320.9,398.6Z" fill="#fff"/>
<path d="M337.6,393.0 343.2,390.7 346.9,389.3 345.1,392.0 340.4,393.4Z" fill="#fff"/>
<path d="M769.7,450.8 775.3,450.8 786.4,458.3 797.6,463.9 803.1,467.6 801.0,471.0 799.4,475.0 790.1,476.9 782.7,471.3 780.8,463.9 771.5,452.7Z" fill="#fff"/>
<path d="M758.9,387.9 764.3,380.1 769.7,377.8 777.5,378.6 778.2,382.5 774.4,386.3 773.6,390.2 777.5,394.9 782.1,398.0 786.8,401.8 787.5,406.5 786.8,414.2 787.5,420.4 781.3,422.0 773.6,419.6 769.7,415.8 768.9,408.0 765.8,403.4 763.5,400.3 760.4,396.4Z" fill="#fff"/>
<path d="M556.7,466.5 569.1,466.5" fill="none" stroke="#fff" stroke-width="0.8" stroke-opacity="0.9" stroke-linejoin="round"/>
<path d="M556.7,466.5 555.1,475.8 550.5,485.1 547.4,488.2" fill="none" stroke="#fff" stroke-width="0.8" stroke-opacity="0.9" stroke-linejoin="round"/>
<path d="M577.6,473.4 578.1,513.0" fill="none" stroke="#fff" stroke-width="0.8" stroke-opacity="0.9" stroke-linejoin="round"/>
<path d="M556.7,513.0 579.9,513.0" fill="none" stroke="#fff" stroke-width="0.8" stroke-opacity="0.9" stroke-linejoin="round"/>
<path d="M612.5,497.5 615.6,506.8 614.0,513.0" fill="none" stroke="#fff" stroke-width="0.8" stroke-opacity="0.9" stroke-linejoin="round"/>
<path d="M579.9,513.0 586.1,517.6 597.0,517.6 603.2,516.0 612.5,519.1" fill="none" stroke="#fff" stroke-width="0.8" stroke-opacity="0.9" stroke-linejoin="round"/>
<path d="M589.2,533.1 589.2,556.3" fill="none" stroke="#fff" stroke-width="0.8" stroke-opacity="0.9" stroke-linejoin="round"/>
<path d="M601.6,533.1 603.2,551.7" fill="none" stroke="#fff" stroke-width="0.8" stroke-opacity="0.9" stroke-linejoin="round"/>
<path d="M607.8,533.1 609.4,551.7" fill="none" stroke="#fff" stroke-width="0.8" stroke-opacity="0.9" stroke-linejoin="round"/>
<path d="M587.7,533.1 609.4,533.1" fill="none" stroke="#fff" stroke-width="0.8" stroke-opacity="0.9" stroke-linejoin="round"/>
<path d="M550.5,526.9 566.0,528.4 575.3,537.7 569.1,547.0" fill="none" stroke="#fff" stroke-width="0.8" stroke-opacity="0.9" stroke-linejoin="round"/>
<path d="M539.6,523.8 555.1,523.8" fill="none" stroke="#fff" stroke-width="0.8" stroke-opacity="0.9" stroke-linejoin="round"/>
<path d="M566.0,528.4 578.4,526.9 587.7,533.1" fill="none" stroke="#fff" stroke-width="0.8" stroke-opacity="0.9" stroke-linejoin="round"/>
<path d="M654.5,480.0 655.9,493.2 654.5,506.5 650.0,518.3 648.6,521.2" fill="none" stroke="#fff" stroke-width="0.8" stroke-opacity="0.9" stroke-linejoin="round"/>
<path d="M655.9,480.0 688.3,493.2" fill="none" stroke="#fff" stroke-width="0.8" stroke-opacity="0.9" stroke-linejoin="round"/>
<path d="M688.3,484.4 688.3,493.2 685.4,509.4 680.9,522.7 682.4,531.5 688.3,541.8 695.7,550.6 701.5,559.5 711.8,562.4 717.7,565.4" fill="none" stroke="#fff" stroke-width="0.8" stroke-opacity="0.9" stroke-linejoin="round"/>
<path d="M682.4,531.5 688.3,535.9 694.2,535.9 703.0,537.4 708.9,535.9 717.7,533.0 722.1,530.0" fill="none" stroke="#fff" stroke-width="0.8" stroke-opacity="0.9" stroke-linejoin="round"/>
<path d="M722.1,530.0 726.6,516.8 732.5,509.4 736.9,503.5" fill="none" stroke="#fff" stroke-width="0.8" stroke-opacity="0.9" stroke-linejoin="round"/>
<path d="M722.1,530.0 725.1,546.2 729.5,556.5 726.6,562.4 732.5,563.9 741.3,563.9 750.1,562.4 758.9,559.5 767.8,555.1 773.7,547.7 778.1,541.8" fill="none" stroke="#fff" stroke-width="0.8" stroke-opacity="0.9" stroke-linejoin="round"/>
<path d="M756.0,533.0 761.9,541.8 773.7,544.8" fill="none" stroke="#fff" stroke-width="0.8" stroke-opacity="0.9" stroke-linejoin="round"/>
<path d="M751.6,562.4 750.1,583.0 751.6,586.0" fill="none" stroke="#fff" stroke-width="0.8" stroke-opacity="0.9" stroke-linejoin="round"/>
<path d="M725.1,583.0 747.2,597.7" fill="none" stroke="#fff" stroke-width="0.8" stroke-opacity="0.9" stroke-linejoin="round"/>
<path d="M726.6,563.9 726.6,581.5" fill="none" stroke="#fff" stroke-width="0.8" stroke-opacity="0.9" stroke-linejoin="round"/>
<path d="M714.8,563.9 710.4,574.2 707.4,586.0 707.4,597.7 708.9,609.5 706.0,619.8" fill="none" stroke="#fff" stroke-width="0.8" stroke-opacity="0.9" stroke-linejoin="round"/>
<path d="M667.7,559.5 682.4,559.5 700.1,556.5 711.8,562.4" fill="none" stroke="#fff" stroke-width="0.8" stroke-opacity="0.9" stroke-linejoin="round"/>
<path d="M654.5,547.7 664.8,544.8 673.6,541.8 682.4,533.0" fill="none" stroke="#fff" stroke-width="0.8" stroke-opacity="0.9" stroke-linejoin="round"/>
<path d="M654.5,547.7 653.0,559.5 657.4,565.4 667.7,565.4 667.7,559.5" fill="none" stroke="#fff" stroke-width="0.8" stroke-opacity="0.9" stroke-linejoin="round"/>
<path d="M648.6,521.2 651.5,528.6 655.9,535.9 648.6,544.8 644.2,550.6 638.3,552.1 632.4,558.0" fill="none" stroke="#fff" stroke-width="0.8" stroke-opacity="0.9" stroke-linejoin="round"/>
<path d="M648.6,521.2 636.8,524.2 625.0,524.2 614.7,522.7 611.8,528.6 610.3,538.9 608.8,552.1" fill="none" stroke="#fff" stroke-width="0.8" stroke-opacity="0.9" stroke-linejoin="round"/>
<path d="M667.7,559.5 664.8,575.7 661.8,588.9 655.9,597.7 648.6,602.1 647.1,612.5" fill="none" stroke="#fff" stroke-width="0.8" stroke-opacity="0.9" stroke-linejoin="round"/>
<path d="M635.3,569.8 648.6,569.8 651.5,574.2 650.0,588.9 642.7,590.4 641.2,597.7" fill="none" stroke="#fff" stroke-width="0.8" stroke-opacity="0.9" stroke-linejoin="round"/>
<path d="M647.1,603.6 661.8,603.6 664.8,609.5 673.6,609.5 678.0,612.5" fill="none" stroke="#fff" stroke-width="0.8" stroke-opacity="0.9" stroke-linejoin="round"/>
<path d="M614.7,499.1 613.2,509.4 614.7,515.3" fill="none" stroke="#fff" stroke-width="0.8" stroke-opacity="0.9" stroke-linejoin="round"/>
<path d="M611.8,522.7 600.0,524.2" fill="none" stroke="#fff" stroke-width="0.8" stroke-opacity="0.9" stroke-linejoin="round"/>
<path d="M645.4,604.1 659.8,604.1 662.9,612.3 671.1,611.3 671.1,609.2 678.3,609.2 680.4,620.6 681.4,625.7 687.6,626.7" fill="none" stroke="#fff" stroke-width="0.8" stroke-opacity="0.9" stroke-linejoin="round"/>
<path d="M687.6,626.7 686.5,634.9 680.4,635.5 680.4,651.4 683.4,654.5" fill="none" stroke="#fff" stroke-width="0.8" stroke-opacity="0.9" stroke-linejoin="round"/>
<path d="M643.4,652.4 655.7,653.4 671.1,655.5 683.4,654.5" fill="none" stroke="#fff" stroke-width="0.8" stroke-opacity="0.9" stroke-linejoin="round"/>
<path d="M687.6,626.7 691.7,628.8 699.9,630.8 706.1,634.9 707.1,630.8 704.0,625.7 705.0,615.4 712.2,614.4 708.1,607.2 707.1,600.0" fill="none" stroke="#fff" stroke-width="0.8" stroke-opacity="0.9" stroke-linejoin="round"/>
<path d="M683.4,654.5 691.7,655.5 697.8,655.5 701.9,650.4 710.2,645.2 715.3,642.1 720.4,640.1" fill="none" stroke="#fff" stroke-width="0.8" stroke-opacity="0.9" stroke-linejoin="round"/>
<path d="M712.2,614.4 718.4,618.5 723.5,620.6 722.5,628.8 720.4,639.1 724.6,643.2 725.6,648.3 728.7,649.3 729.7,643.2 726.6,637.0 725.6,623.6" fill="none" stroke="#fff" stroke-width="0.8" stroke-opacity="0.9" stroke-linejoin="round"/>
<path d="M726.6,629.8 733.8,628.8 747.2,624.7" fill="none" stroke="#fff" stroke-width="0.8" stroke-opacity="0.9" stroke-linejoin="round"/>
<path d="M675.2,657.6 675.2,673.0 672.1,674.0 672.1,687.4" fill="none" stroke="#fff" stroke-width="0.8" stroke-opacity="0.9" stroke-linejoin="round"/>
<path d="M691.7,656.5 694.7,662.7 700.9,670.9 706.1,674.0" fill="none" stroke="#fff" stroke-width="0.8" stroke-opacity="0.9" stroke-linejoin="round"/>
<path d="M710.2,645.2 718.4,650.4 719.4,656.5 718.4,663.7 715.3,671.9 713.2,674.0" fill="none" stroke="#fff" stroke-width="0.8" stroke-opacity="0.9" stroke-linejoin="round"/>
<path d="M753.5,410.7 760.4,423.2 761.8,433.0 767.4,445.5 773.0,452.5" fill="none" stroke="#fff" stroke-width="0.8" stroke-opacity="0.9" stroke-linejoin="round"/>
<path d="M745.1,421.8 743.7,433.0 733.9,440.0" fill="none" stroke="#fff" stroke-width="0.8" stroke-opacity="0.9" stroke-linejoin="round"/>
<path d="M725.6,438.6 740.9,441.3 753.5,446.9 766.0,451.1" fill="none" stroke="#fff" stroke-width="0.8" stroke-opacity="0.9" stroke-linejoin="round"/>
<path d="M786.9,414.9 798.1,416.3 809.2,420.4 813.4,426.0" fill="none" stroke="#fff" stroke-width="0.8" stroke-opacity="0.9" stroke-linejoin="round"/>
<path d="M813.4,426.0 812.0,435.8 816.2,442.7 817.6,452.5 821.8,455.3" fill="none" stroke="#fff" stroke-width="0.8" stroke-opacity="0.9" stroke-linejoin="round"/>
<path d="M821.8,455.3 824.6,463.7 821.8,469.2" fill="none" stroke="#fff" stroke-width="0.8" stroke-opacity="0.9" stroke-linejoin="round"/>
<path d="M821.8,455.3 831.5,452.5 838.5,444.1 842.7,438.6 848.3,431.6 851.1,426.0 853.9,421.8" fill="none" stroke="#fff" stroke-width="0.8" stroke-opacity="0.9" stroke-linejoin="round"/>
<path d="M813.4,426.0 824.6,420.4 834.3,416.3 845.5,416.3 852.5,420.4" fill="none" stroke="#fff" stroke-width="0.8" stroke-opacity="0.9" stroke-linejoin="round"/>
<path d="M789.7,385.6 798.1,393.9 809.2,400.9 820.4,407.9 826.0,414.9 834.3,416.3" fill="none" stroke="#fff" stroke-width="0.8" stroke-opacity="0.9" stroke-linejoin="round"/>
<path d="M831.5,410.7 837.1,406.5 845.5,405.1 853.9,407.9" fill="none" stroke="#fff" stroke-width="0.8" stroke-opacity="0.9" stroke-linejoin="round"/>
<path d="M752.1,400.9 761.8,403.7 767.4,407.9" fill="none" stroke="#fff" stroke-width="0.8" stroke-opacity="0.9" stroke-linejoin="round"/>
<path d="M330.9,529.3 332.5,544.1 340.7,549.1 348.9,550.7 350.6,562.2" fill="none" stroke="#fff" stroke-width="0.8" stroke-opacity="0.9" stroke-linejoin="round"/>
<path d="M372.0,549.1 376.9,555.7 383.5,562.2" fill="none" stroke="#fff" stroke-width="0.8" stroke-opacity="0.9" stroke-linejoin="round"/>
<path d="M385.1,555.7 386.8,568.8" fill="none" stroke="#fff" stroke-width="0.8" stroke-opacity="0.9" stroke-linejoin="round"/>
<path d="M302.9,575.4 319.3,582.0 332.5,591.8 340.7,593.5" fill="none" stroke="#fff" stroke-width="0.8" stroke-opacity="0.9" stroke-linejoin="round"/>
<path d="M301.2,578.7 311.1,593.5 302.9,598.4" fill="none" stroke="#fff" stroke-width="0.8" stroke-opacity="0.9" stroke-linejoin="round"/>
<path d="M357.5,622.0 352.0,635.0 350.0,645.0 346.0,652.0" fill="none" stroke="#fff" stroke-width="0.8" stroke-opacity="0.9" stroke-linejoin="round"/>
<path d="M346.0,652.0 352.0,668.0 362.0,676.0 376.0,677.0 390.0,685.0" fill="none" stroke="#fff" stroke-width="0.8" stroke-opacity="0.9" stroke-linejoin="round"/>
<path d="M380.0,645.0 384.0,662.0 392.0,668.0 402.0,682.0" fill="none" stroke="#fff" stroke-width="0.8" stroke-opacity="0.9" stroke-linejoin="round"/>
<path d="M573.7,402.4 580.0,401.2 578.7,407.4 577.5,413.6 578.7,419.9" fill="none" stroke="#fff" stroke-width="0.7" stroke-opacity="0.9" stroke-linejoin="round"/>
</g>
<circle cx="152.1" cy="253" r="0.9" fill="#222"/>
<circle cx="75" cy="338.1" r="0.9" fill="#222"/>

<g id="legend">
<rect x="34.2" y="156.2" width="101" height="16.1" fill="#035a82"/>
<rect x="135" y="156.2" width="101" height="16.1" fill="#0277b6"/>
<rect x="236" y="156.2" width="101" height="16.1" fill="#0296db"/>
<rect x="337" y="156.2" width="101" height="16.1" fill="#05adf8"/>
<rect x="438" y="156.2" width="101" height="16.1" fill="#44c5fb"/>
<rect x="539" y="156.2" width="100.5" height="16.1" fill="#89d8fd"/>
</g>
<g id="lines" stroke="#111" stroke-width="2" fill="none">
<path d="M165,404.5H212.7"/>
<path d="M534.9,363H640.4"/>
<path d="M531.4,438.6H617.7V381.5"/>
<path d="M533.6,499.8H632.4V380"/>
<path d="M620.7,318.7V337.4H636.4"/>
<path d="M687,204.5H659.7V294.8"/>
<path d="M845.5,232.8H686.3V310"/>
<path d="M1110.5,263.2H1044.3V419"/>
<path d="M789.8,570.2H720.7V442"/>
<path d="M986.4,578.2V629.5"/>
</g>
<text class="b" x="33.5" y="66.6" font-size="36" textLength="669.0" lengthAdjust="spacingAndGlyphs">World's 60 Most Innovative Economies</text>
<text x="32.2" y="108.4" font-size="32.5" textLength="985.4" lengthAdjust="spacingAndGlyphs">China inches into top 15 in 2020 as Japan drops out of top 10</text>
<text x="31.4" y="148.8" font-size="25" textLength="179.8" lengthAdjust="spacingAndGlyphs">Innovation rank</text>
<text x="31.9" y="197" font-size="26" textLength="35.1" lengthAdjust="spacingAndGlyphs">1st</text>
<text x="582.2" y="196.6" font-size="26" textLength="58.9" lengthAdjust="spacingAndGlyphs">60th</text>
<g font-size="28" font-weight="bold">
<text x="695.4" y="184.5" textLength="48.4" lengthAdjust="spacingAndGlyphs">5th</text>
<text x="856.8" y="213" textLength="44.9" lengthAdjust="spacingAndGlyphs">7th</text>
<text x="1121.0" y="242.6" textLength="53.4" lengthAdjust="spacingAndGlyphs">2nd</text>
<text x="586.0" y="266" textLength="47.6" lengthAdjust="spacingAndGlyphs">8th</text>
<text x="486.4" y="370.3" textLength="40.2" lengthAdjust="spacingAndGlyphs">1st</text>
<text x="111.0" y="384.7" textLength="47.4" lengthAdjust="spacingAndGlyphs">9th</text>
<text x="462.0" y="442.9" textLength="62.4" lengthAdjust="spacingAndGlyphs">10th</text>
<text x="481.0" y="507.9" textLength="46.4" lengthAdjust="spacingAndGlyphs">4th</text>
<text x="799.6" y="577.4" textLength="47.2" lengthAdjust="spacingAndGlyphs">6th</text>
<text x="947.6" y="663.2" textLength="50.4" lengthAdjust="spacingAndGlyphs">3rd</text>
</g>
<g font-size="24">
<text x="695.4" y="216.5" textLength="93.0" lengthAdjust="spacingAndGlyphs">Sweden</text>
<text x="855.8" y="243.7" textLength="86.1" lengthAdjust="spacingAndGlyphs">Finland</text>
<text x="1120.2" y="274.5" textLength="95.2" lengthAdjust="spacingAndGlyphs">S. Korea</text>
<text x="525.0" y="298.3" textLength="104.9" lengthAdjust="spacingAndGlyphs">Denmark</text>
<text x="422.0" y="402.9" textLength="103.4" lengthAdjust="spacingAndGlyphs">Germany</text>
<text x="110.8" y="416.3" textLength="45.6" lengthAdjust="spacingAndGlyphs">U.S.</text>
<text x="441.6" y="474.6" textLength="81.6" lengthAdjust="spacingAndGlyphs">France</text>
<text x="392.5" y="538.6" textLength="134.0" lengthAdjust="spacingAndGlyphs">Switzerland</text>
<text x="798.6" y="609" textLength="65.0" lengthAdjust="spacingAndGlyphs">Israel</text>
<text x="879.8" y="694.8" textLength="118.1" lengthAdjust="spacingAndGlyphs">Singapore</text>
</g>
<g font-size="24.5">
<text x="32" y="856.9" textLength="1020" lengthAdjust="spacingAndGlyphs">Sources: Bloomberg, International Labour Organization, International Monetary Fund,</text>
<text x="33" y="886.5" textLength="937" lengthAdjust="spacingAndGlyphs">World Bank, Organisation for Economic Cooperation and Development, World</text>
<text x="31" y="916.4" textLength="1022" lengthAdjust="spacingAndGlyphs">Intellectual Property Organization, United Nations Educational, Scientific and Cultural</text>
<text x="33" y="945.8" textLength="155.6" lengthAdjust="spacingAndGlyphs">Organization</text>
</g>
<text x="1122.4" y="951.7" font-size="26.5" font-weight="bold" textLength="144.9" lengthAdjust="spacingAndGlyphs">Bloomberg</text>
</svg>
</body></html>
